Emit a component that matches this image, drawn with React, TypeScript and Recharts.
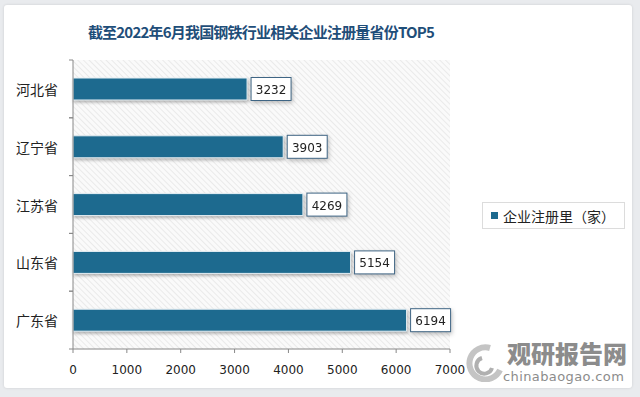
import { Bar, BarChart, CartesianGrid, LabelList, XAxis, YAxis } from 'recharts';

const provinces = ['河北省', '辽宁省', '江苏省', '山东省', '广东省'];
const counts = [3232, 3903, 4269, 5154, 6194];
const xTicks = [0, 1000, 2000, 3000, 4000, 5000, 6000, 7000];

const SERIES = '企业注册里（家）';
const BAR_COLOR = '#1d6a8f';
const CJK = '"Noto Sans CJK SC", "Noto Sans", sans-serif';
const NUM = '"DejaVu Sans", Verdana, sans-serif';

const data = provinces.map((p, i) => ({ name: p, value: counts[i] }));

const W = 640;
const H = 397;
const M = { top: 60, right: 190, bottom: 18, left: 0 };
const X_AXIS_H = 30;
const Y_AXIS_W = 73;
const PLOT_H = H - M.top - M.bottom - X_AXIS_H;
const HALF_BAND = PLOT_H / provinces.length / 2;

// tick x arrives already pulled in by tickSize + tickMargin, so draw boundary marks from the axis itself
function ProvinceTick(props: any) {
  const { y, payload } = props;
  const ax = M.left + Y_AXIS_W;
  return (
    <g>
      <line x1={ax - 4} x2={ax} y1={y - HALF_BAND} y2={y - HALF_BAND} stroke="#888" />
      <line x1={ax - 4} x2={ax} y1={y + HALF_BAND} y2={y + HALF_BAND} stroke="#888" />
      <text x={ax - 15} y={y} textAnchor="end" dominantBaseline="central" fontSize={14} fill="#222" fontFamily={CJK}>
        {payload.value}
      </text>
    </g>
  );
}

function ValueBox(props: any) {
  const { x, y, width, height, value } = props;
  const bx = x + width + 4;
  const cy = y + height / 2;
  return (
    <g style={{ filter: 'drop-shadow(1px 2px 2px rgba(0,0,0,0.25))' }}>
      <rect x={bx} y={cy - 11.5} width={40} height={23} fill="#fff" stroke="#3f6584" strokeWidth={1} />
      <text x={bx + 20} y={cy + 1} textAnchor="middle" dominantBaseline="central" fontSize={12} fill="#222" fontFamily={NUM}>
        {value}
      </text>
    </g>
  );
}

function LegendBox() {
  return (
    <div
      style={{
        position: 'absolute',
        left: 482,
        top: 202,
        width: 141,
        height: 25,
        border: '1px solid #dcdcdc',
        display: 'flex',
        alignItems: 'center',
        fontFamily: CJK,
        fontSize: 14,
        color: '#222',
        background: '#fff',
      }}
    >
      <span style={{ width: 7, height: 7, background: BAR_COLOR, marginLeft: 8, marginRight: 5 }} />
      <span>{SERIES}</span>
    </div>
  );
}

function Watermark() {
  return (
    <div style={{ position: 'absolute', left: 460, top: 340 }}>
      <svg width={48} height={42} style={{ position: 'absolute', left: 0, top: 0 }}>
        <path d="M30 8 A16 16 0 1 0 40 30" fill="none" stroke="#c4c4c4" strokeWidth={6} />
        <path d="M22 18 A8 8 0 1 0 32 28" fill="none" stroke="#b0b0b0" strokeWidth={4} />
      </svg>
      <div
        style={{
          position: 'absolute',
          left: 47,
          top: 0,
          fontFamily: CJK,
          fontWeight: 900,
          fontSize: 24,
          color: '#8c8c8c',
          whiteSpace: 'nowrap',
          lineHeight: '26px',
        }}
      >
        观研报告网
      </div>
      <div
        style={{
          position: 'absolute',
          left: 43,
          top: 29,
          fontFamily: NUM,
          fontSize: 13,
          color: '#8c8c8c',
          whiteSpace: 'nowrap',
          letterSpacing: 0.4,
          lineHeight: '16px',
        }}
      >
        chinabaogao.com
      </div>
    </div>
  );
}

export default function App() {
  return (
    <div style={{ position: 'absolute', left: 0, top: 0, width: W, height: H, background: '#e9ebee', overflow: 'hidden' }}>
      <svg width={0} height={0} style={{ position: 'absolute' }}>
        <defs>
          <pattern id="hatch" width={4} height={4} patternUnits="userSpaceOnUse" patternTransform="rotate(-45)">
            <rect width={4} height={4} fill="#fafafa" />
            <line x1={0} y1={0} x2={0} y2={4} stroke="#e0e0e0" strokeWidth={1.2} />
          </pattern>
        </defs>
      </svg>
      <div
        style={{
          position: 'absolute',
          left: 4,
          top: 5,
          width: 628,
          height: 383,
          background: '#fff',
          borderRadius: 3,
          boxShadow: '0 0 3px rgba(0,0,0,0.12)',
        }}
      />
      <div
        style={{
          position: 'absolute',
          left: 0,
          top: 20,
          width: 522,
          textAlign: 'center',
          fontFamily: CJK,
          fontWeight: 700,
          fontSize: 15,
          color: '#1f4e79',
          letterSpacing: -0.8,
          lineHeight: '24px',
        }}
      >
        截至2022年6月我国钢铁行业相关企业注册量省份TOP5
      </div>
      <div style={{ position: 'absolute', left: 0, top: 0 }}>
        <BarChart width={W} height={H} data={data} layout="vertical" margin={M} barSize={22}>
          <CartesianGrid horizontal={false} vertical={false} fill="url(#hatch)" fillOpacity={1} />
          <XAxis
            type="number"
            domain={[0, 7000]}
            ticks={xTicks}
            height={X_AXIS_H}
            axisLine={{ stroke: '#888' }}
            tickLine={{ stroke: '#888' }}
            tickSize={4}
            tickMargin={12}
            tick={{ fontSize: 12, fill: '#222', fontFamily: NUM }}
            interval={0}
          />
          <YAxis
            type="category"
            dataKey="name"
            width={Y_AXIS_W}
            axisLine={{ stroke: '#888' }}
            tickLine={false}
            tick={<ProvinceTick />}
            interval={0}
          />
          <Bar
            dataKey="value"
            name={SERIES}
            fill={BAR_COLOR}
            stroke="#e8f1f6"
            strokeWidth={1}
            isAnimationActive={false}
            style={{ filter: 'drop-shadow(1px 2px 1.5px rgba(0,0,0,0.28))' }}
          >
            <LabelList dataKey="value" content={<ValueBox />} />
          </Bar>
        </BarChart>
      </div>
      <LegendBox />
      <Watermark />
    </div>
  );
}
